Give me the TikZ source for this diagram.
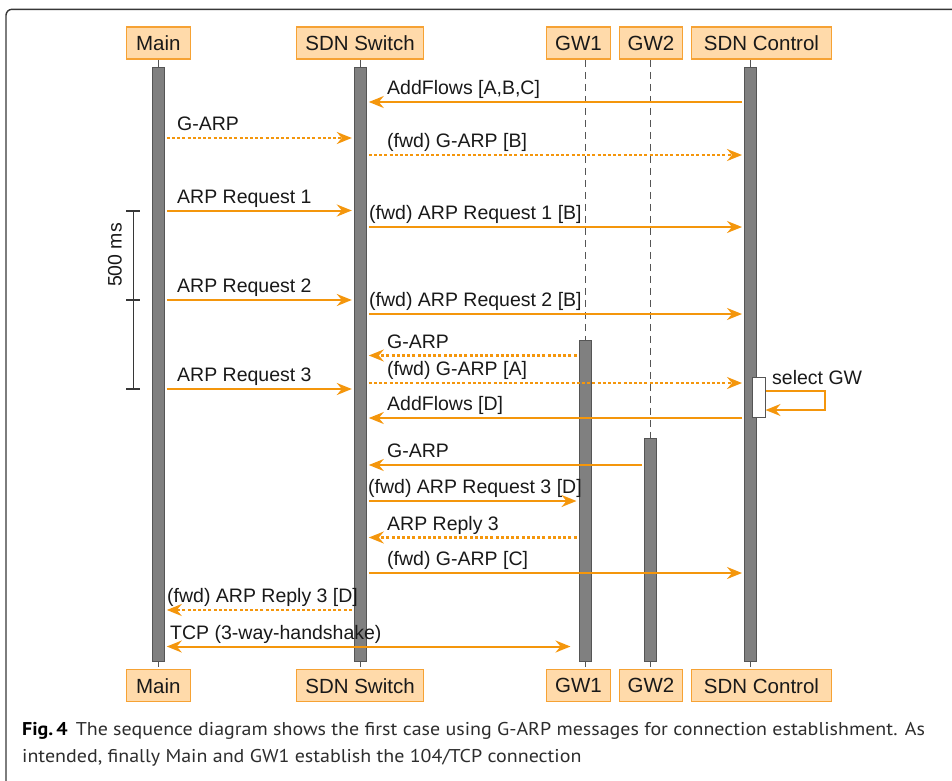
\documentclass[tikz,border=0pt]{standalone}
\usepackage{fontspec}
\setmainfont{Liberation Sans}
\newfontfamily\capfont[FakeStretch=1.08]{PT Sans}
\usetikzlibrary{arrows.meta}

\definecolor{msgc}{RGB}{244,150,12}
\definecolor{boxfill}{RGB}{255,218,170}
\definecolor{boxline}{RGB}{246,162,52}
\definecolor{barfill}{RGB}{128,128,128}
\definecolor{barline}{RGB}{85,85,85}
\definecolor{lifec}{RGB}{85,85,85}
\definecolor{inkc}{RGB}{25,25,25}
\definecolor{framec}{RGB}{55,55,55}
\definecolor{capc}{RGB}{45,45,45}

\begin{document}
\begin{tikzpicture}[x=1pt,y=-1pt,
  head/.style={draw=boxline, fill=boxfill, line width=1.5pt, minimum height=32pt,
    inner sep=0pt, font=\fontsize{20.5}{24}\selectfont, text=inkc},
  actbar/.style={draw=barline, fill=barfill, line width=1pt, minimum width=12pt, inner sep=0pt},
  selbar/.style={draw=barline, fill=white, line width=1pt, minimum width=13pt, inner sep=0pt},
  lifeline/.style={draw=lifec, line width=1pt, dash pattern=on 7pt off 5pt},
  tip/.tip={Stealth[length=15pt,width=12pt,inset=5pt]},
  msg/.style={draw=msgc, line width=2pt, -tip, shorten <=2pt, shorten >=2pt},
  async/.style={msg, line width=2.3pt, dash pattern=on 3pt off 2.2pt},
  lbl/.style={anchor=base west, inner sep=0pt, font=\fontsize{19.5}{23}\selectfont, text=inkc},
  timing/.style={draw=framec, line width=1.3pt},
]
\useasboundingbox (0,0) rectangle (952,780);
\clip (0,0) rectangle (952,780);

% outer figure frame
\draw[framec, line width=1.4pt, rounded corners=6pt] (970,9.3) -- (6,9.3) -- (6,800);

% participant boxes, top and bottom
\node[head, minimum width=64pt]  (hmain) at (158.3,43) {Main};
\node[head, minimum width=127pt] (hsw)   at (360,43)   {SDN Switch};
\node[head, minimum width=64pt]  (hgw1)  at (578.5,43) {GW1};
\node[head, minimum width=63pt]  (hgw2)  at (651,43)   {GW2};
\node[head, minimum width=140pt] (hctl)  at (761.5,43) {SDN Control};
\node[head, minimum width=64pt]  (fmain) at (158.3,685.7) {Main};
\node[head, minimum width=127pt] (fsw)   at (360,685.7)   {SDN Switch};
\node[head, minimum width=64pt]  (fgw1)  at (578.5,685.7) {GW1};
\node[head, minimum width=63pt]  (fgw2)  at (651,685.7)   {GW2};
\node[head, minimum width=140pt] (fctl)  at (761.5,685.7) {SDN Control};

% lifeline columns
\coordinate (xmain) at (158.3,0);
\coordinate (xsw)   at (360.3,0);
\coordinate (xgw1)  at (585,0);
\coordinate (xgw2)  at (650.7,0);
\coordinate (xctl)  at (750.5,0);
\draw[lifeline] (xmain |- hmain.south) -- (xmain |- fmain.north);
\draw[lifeline] (xsw |- hsw.south) -- (xsw |- fsw.north);
\draw[lifeline] (xgw1 |- hgw1.south) -- (xgw1 |- fgw1.north);
\draw[lifeline] (xgw2 |- hgw2.south) -- (xgw2 |- fgw2.north);
\draw[lifeline] (xctl |- hctl.south) -- (xctl |- fctl.north);

% activation bars
\node[actbar, minimum height=594pt] (mainbar) at (158.3,364) {};
\node[actbar, minimum height=594pt] (swbar)   at (360.3,364) {};
\node[actbar, minimum height=321pt] (gw1bar)  at (585,500.5) {};
\node[actbar, minimum height=223pt] (gw2bar)  at (650.7,549.5) {};
\node[actbar, minimum height=594pt] (ctlbar)  at (750.5,364) {};
\node[selbar, minimum height=40pt]  (selbox)  at (758.5,397.7) {};

% message levels
\coordinate (m1)  at (0,102);
\coordinate (m2)  at (0,138);
\coordinate (m3)  at (0,155);
\coordinate (m4)  at (0,210.5);
\coordinate (m5)  at (0,227);
\coordinate (m6)  at (0,300);
\coordinate (m7)  at (0,314);
\coordinate (m8)  at (0,355.5);
\coordinate (m9)  at (0,389);
\coordinate (m10) at (0,383);
\coordinate (m11) at (0,418);
\coordinate (m12) at (0,465);
\coordinate (m13) at (0,501);
\coordinate (m14) at (0,537.5);
\coordinate (m15) at (0,573);
\coordinate (m16) at (0,610);
\coordinate (m17) at (0,646.5);
\coordinate (sl1) at (0,391);
\coordinate (sl2) at (0,410);
\coordinate (loopr) at (825,0);

% messages
\draw[msg]   (ctlbar.west |- m1)  -- (swbar.east |- m1);
\draw[async] (mainbar.east |- m2) -- (swbar.west |- m2);
\draw[async] (swbar.east |- m3)   -- (ctlbar.west |- m3);
\draw[msg]   (mainbar.east |- m4) -- (swbar.west |- m4);
\draw[msg]   (swbar.east |- m5)   -- (ctlbar.west |- m5);
\draw[msg]   (mainbar.east |- m6) -- (swbar.west |- m6);
\draw[msg]   (swbar.east |- m7)   -- (ctlbar.west |- m7);
\draw[async] (gw1bar.west |- m8)  -- (swbar.east |- m8);
\draw[msg]   (mainbar.east |- m9) -- (swbar.west |- m9);
\draw[async] (swbar.east |- m10)  -- (ctlbar.west |- m10);
\draw[msg]   (ctlbar.west |- m11) -- (swbar.east |- m11);
\draw[msg]   (gw2bar.west |- m12) -- (swbar.east |- m12);
\draw[msg]   (swbar.east |- m13)  -- (gw1bar.west |- m13);
\draw[async] (gw1bar.west |- m14) -- (swbar.east |- m14);
\draw[msg]   (swbar.east |- m15)  -- (ctlbar.west |- m15);
\draw[async] (swbar.west |- m16)  -- (mainbar.east |- m16);
\draw[msg, tip-tip, shorten >=8pt] (mainbar.east |- m17) -- (gw1bar.west |- m17);
% self call on the controller
\draw[msg, shorten <=0pt, shorten >=0pt]
  (selbox.east |- sl1) -- (loopr |- sl1) -- (loopr |- sl2) -- (selbox.east |- sl2);

% message labels
\node[lbl] (l1)  at (387,94.5)  {AddFlows [A,B,C]};
\node[lbl] (l2)  at (177,130.5) {G-ARP};
\node[lbl] (l3)  at (387,147.5) {(fwd) G-ARP [B]};
\node[lbl] (l4)  at (177,203)   {ARP Request 1};
\node[lbl] (l5)  at (369,219.5) {(fwd) ARP Request 1 [B]};
\node[lbl] (l6)  at (177,292.5) {ARP Request 2};
\node[lbl] (l7)  at (369,306.5) {(fwd) ARP Request 2 [B]};
\node[lbl] (l8)  at (387,348)   {G-ARP};
\node[lbl] (l9)  at (177,381.5) {ARP Request 3};
\node[lbl] (l10) at (387,375.5) {(fwd) G-ARP [A]};
\node[lbl] (l11) at (387,410.5) {AddFlows [D]};
\node[lbl] (l12) at (387,457.5) {G-ARP};
\node[lbl] (l13) at (368,493.5) {(fwd) ARP Request 3 [D]};
\node[lbl] (l14) at (387,530)   {ARP Reply 3};
\node[lbl] (l15) at (387,565.5) {(fwd) G-ARP [C]};
\node[lbl] (l16) at (167,602.5) {(fwd) ARP Reply 3 [D]};
\node[lbl] (l17) at (170,639)   {TCP (3-way-handshake)};
\node[lbl] (lsel) at (772,384)  {select GW};

% 500 ms timing bracket
\coordinate (t1) at (133.3,211);
\coordinate (t2) at (133.3,300);
\coordinate (t3) at (133.3,389);
\draw[timing] (t1) -- (t3);
\draw[timing] ([xshift=-7pt]t1) -- ([xshift=7pt]t1);
\draw[timing] ([xshift=-7pt]t2) -- ([xshift=7pt]t2);
\draw[timing] ([xshift=-7pt]t3) -- ([xshift=7pt]t3);
\node[rotate=90, inner sep=0pt, font=\fontsize{19.5}{23}\selectfont, text=inkc] (tlbl) at (115,255) {500 ms};

% caption (base anchor sits on the last line)
\node[anchor=base west, inner sep=0pt, align=left, text=capc,
      font=\capfont\fontsize{18.5}{27.5}\selectfont] (caption) at (22,762.5)
  {{\color{black}\textbf{Fig.\,4}}\hspace{8pt}The sequence diagram shows the first case using G-ARP messages for connection establishment. As\\
   intended, finally Main and GW1 establish the 104/TCP connection};
\end{tikzpicture}
\end{document}
